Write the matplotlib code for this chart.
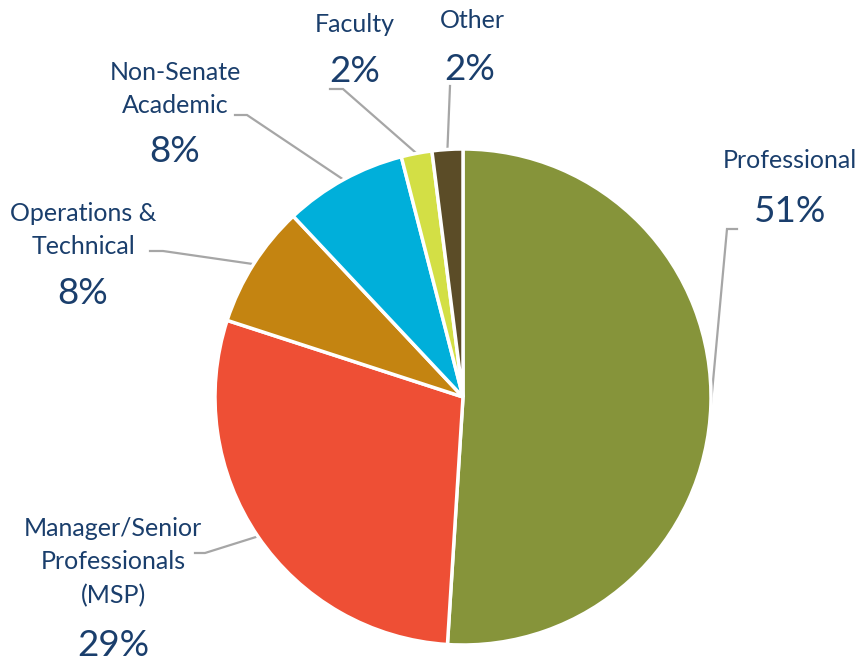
import numpy as np
import matplotlib.pyplot as plt

# staff composition by category
categories = ['Professional', 'Manager/Senior\nProfessionals\n(MSP)', 'Operations &\nTechnical',
              'Non-Senate\nAcademic', 'Faculty', 'Other']
shares = [51, 29, 8, 8, 2, 2]
colors = ['#86943A', '#EE4F35', '#C48411', '#00AFDA', '#D3DF45', '#5B4C27']

W, H = 858, 665
cx, cy, R = 463, H - 397, 248
navy = '#1A3E6C'
grey = '#A6A6A6'

fig = plt.figure(figsize=(W / 100, H / 100), dpi=100)
ax = fig.add_axes([0, 0, 1, 1])

wedges, _ = ax.pie(shares, colors=colors, startangle=90, counterclock=False,
                   center=(cx, cy), radius=R,
                   wedgeprops=dict(edgecolor='white', linewidth=2.5))
# pie resets the limits, so set them afterwards
ax.set_xlim(0, W)
ax.set_ylim(0, H)
ax.set_aspect('equal')
ax.axis('off')

# label layout (pixel coords, y from top): name centre, pct centre, elbow, line end
layout = [
    dict(name=(790, 161), pct=(790, 212), elbow=(727, 229), end=(737, 229)),
    dict(name=(113, 562), pct=(113, 645), elbow=(205, 553), end=(195, 553)),
    dict(name=(83, 230), pct=(83, 293), elbow=(163, 251), end=(150, 251)),
    dict(name=(175, 89), pct=(175, 152), elbow=(247, 115), end=(235, 115)),
    dict(name=(355, 25), pct=(355, 72), elbow=(343, 89), end=(330, 89)),
    dict(name=(472, 21), pct=(470, 70), elbow=(450, 86), end=(450, 86)),
]

for w, cat, val, lay in zip(wedges, categories, shares, layout):
    ang = np.deg2rad((w.theta1 + w.theta2) / 2)
    x0, y0 = cx + R * np.cos(ang), cy + R * np.sin(ang)
    ex, ey = lay['elbow']
    fx, fy = lay['end']
    ax.plot([x0, ex, fx], [y0, H - ey, H - fy], color=grey, lw=1.6, zorder=0,
            solid_joinstyle='miter')
    nx, ny = lay['name']
    ax.text(nx, H - ny, cat, ha='center', va='center', fontsize=18, color=navy,
            family='Lato', linespacing=1.55)
    px, py = lay['pct']
    ax.text(px, H - py, f'{val}%', ha='center', va='center', fontsize=26.5, color=navy,
            family='Lato')

fig.savefig('out.png', dpi=100)
